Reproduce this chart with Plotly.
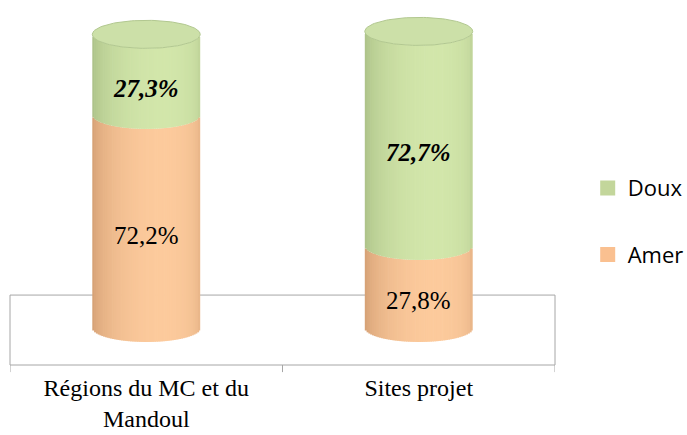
import numpy as np
import plotly.graph_objects as go

# Categories and percentages (bitter vs sweet)
categories = ["Régions du MC et du<br>Mandoul", "Sites projet"]
amer = [72.2, 27.8]
doux = [27.3, 72.7]
amer_labels = ["72,2%", "27,8%"]
doux_labels = ["27,3%", "72,7%"]

# Cylinder geometry / style
BAR_W = 0.396        # cylinder width in x units
RY = 4.75            # half-height of the elliptical faces in y units
N = 60               # vertical slices used for the shading
ORANGE_LIGHT = (252, 202, 156)
ORANGE_DARK = (185, 130, 88)
GREEN_LIGHT = (210, 230, 170)
GREEN_DARK = (145, 168, 112)

x_pos = np.arange(len(categories))


def shade(light, dark, u):
    th = np.arcsin(np.clip(u, -1, 1))
    s = 0.5 + 0.5 * np.cos(th - 0.3)
    c = [dark[i] + (light[i] - dark[i]) * s for i in range(3)]
    return "rgb(%d,%d,%d)" % tuple(round(v) for v in c)


fig = go.Figure()

slice_w = BAR_W / N
for k in range(N):
    u = -1 + (k + 0.5) * 2 / N
    lift = RY * (1 - np.sqrt(1 - u * u))
    off = -BAR_W / 2 + k * slice_w
    w = slice_w * (1.4 if k < N - 1 else 1.0)
    fig.add_bar(
        x=x_pos, y=amer, base=[lift] * len(x_pos),
        offset=off, width=w,
        marker=dict(color=shade(ORANGE_LIGHT, ORANGE_DARK, u), line=dict(width=0)),
        showlegend=False, hoverinfo="skip",
    )
    fig.add_bar(
        x=x_pos, y=doux, base=[a + lift for a in amer],
        offset=off, width=w,
        marker=dict(color=shade(GREEN_LIGHT, GREEN_DARK, u), line=dict(width=0)),
        showlegend=False, hoverinfo="skip",
    )

# Top faces of the cylinders
t = np.linspace(0, 2 * np.pi, 120)
for i in range(len(categories)):
    top = amer[i] + doux[i]
    fig.add_trace(go.Scatter(
        x=x_pos[i] + BAR_W / 2 * np.cos(t),
        y=top + RY + RY * np.sin(t),
        mode="lines", fill="toself",
        fillcolor="rgb(204,224,168)",
        line=dict(color="rgb(178,200,144)", width=1),
        showlegend=False, hoverinfo="skip",
    ))

# Legend entries
fig.add_trace(go.Scatter(x=[None], y=[None], mode="markers", name="Doux",
                         legendgroup="doux",
                         marker=dict(symbol="square", size=15, color="#c3d69b")))
fig.add_trace(go.Scatter(x=[None], y=[None], mode="markers", name="Amer",
                         legendgroup="amer",
                         marker=dict(symbol="square", size=15, color="#fac090")))

# Value labels
annotations = []
for i in range(len(categories)):
    annotations.append(dict(
        x=x_pos[i], y=amer[i] / 2, xref="x", yref="y", text=amer_labels[i],
        showarrow=False, font=dict(family="Liberation Serif", size=25, color="black"),
    ))
    annotations.append(dict(
        x=x_pos[i], y=amer[i] + doux[i] / 2, xref="x", yref="y",
        text="<b><i>%s</i></b>" % doux_labels[i],
        showarrow=False, font=dict(family="Liberation Serif", size=25, color="black"),
    ))

# Floor of the plot and category boundary ticks
shapes = [dict(type="rect", xref="paper", yref="paper", x0=0, x1=1, y0=0, y1=0.197,
               line=dict(color="#a6a6a6", width=1), layer="below")]
for b in (-0.5, 0.5, 1.5):
    shapes.append(dict(type="line", xref="x", yref="paper", x0=b, x1=b, y0=0, y1=-0.02,
                       line=dict(color="#a6a6a6", width=1)))

fig.update_layout(
    width=687, height=435,
    margin=dict(l=10, r=132, t=10, b=70, autoexpand=False),
    paper_bgcolor="white", plot_bgcolor="white",
    barmode="overlay",
    xaxis=dict(range=[-0.5, 1.5], tickvals=x_pos, ticktext=categories,
               showgrid=False, zeroline=False, showline=False, ticks="",
               ticklabelstandoff=6, automargin=False,
               tickfont=dict(family="Liberation Serif", size=24, color="black")),
    yaxis=dict(range=[-7.8, 112.5], visible=False, automargin=False),
    legend=dict(x=1.06, xanchor="left", y=0.404, yanchor="middle",
                font=dict(family="Open Sans", size=22, color="black"),
                tracegroupgap=35, traceorder="grouped",
                bgcolor="rgba(0,0,0,0)"),
    annotations=annotations,
    shapes=shapes,
)

fig.write_html("out.html")
